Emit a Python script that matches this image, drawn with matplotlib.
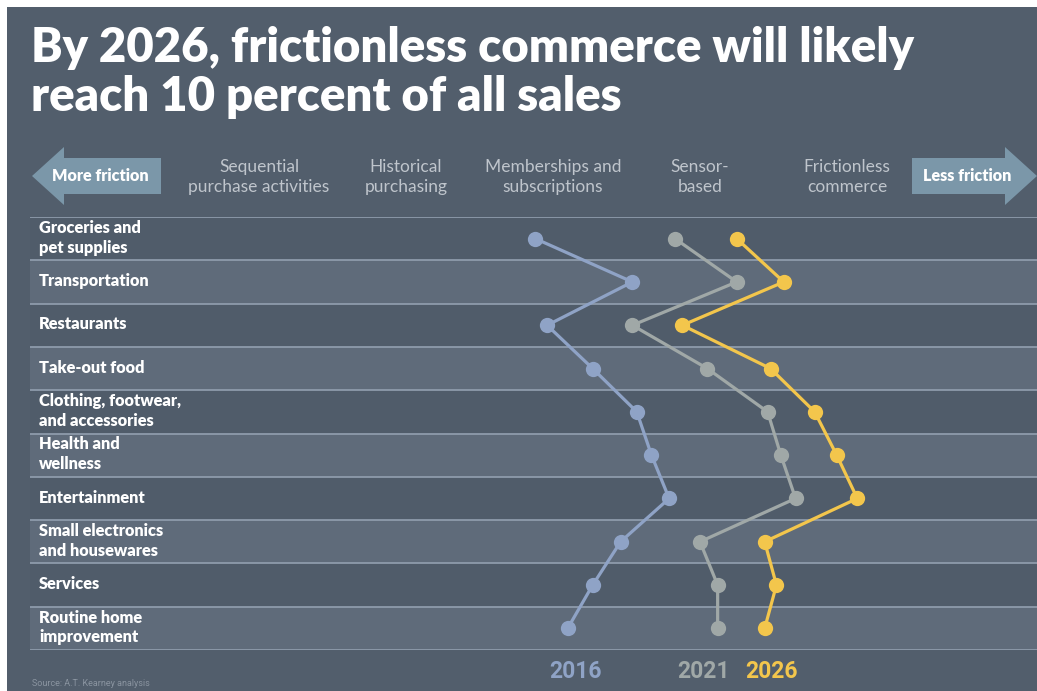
import matplotlib
matplotlib.use("Agg")
import matplotlib.pyplot as plt
from matplotlib.patches import Polygon, Rectangle
from matplotlib.transforms import blended_transform_factory

# ---- data -------------------------------------------------------------
categories = [
    "Groceries and\npet supplies",
    "Transportation",
    "Restaurants",
    "Take-out food",
    "Clothing, footwear,\nand accessories",
    "Health and\nwellness",
    "Entertainment",
    "Small electronics\nand housewares",
    "Services",
    "Routine home\nimprovement",
]
stages = [
    "Sequential\npurchase activities",
    "Historical\npurchasing",
    "Memberships and\nsubscriptions",
    "Sensor-\nbased",
    "Frictionless\ncommerce",
]
years = ["2016", "2021", "2026"]
# friction position on a 1 (sequential) .. 5 (frictionless) scale
values_2016 = [2.88, 3.54, 2.96, 3.27, 3.57, 3.67, 3.79, 3.46, 3.27, 3.10]
values_2021 = [3.83, 4.25, 3.54, 4.05, 4.46, 4.55, 4.65, 4.00, 4.12, 4.12]
values_2026 = [4.25, 4.57, 3.88, 4.48, 4.78, 4.93, 5.07, 4.44, 4.52, 4.44]

series_colors = ["#8fa3c6", "#a0a8a7", "#f3c64c"]

# ---- figure ----------------------------------------------------------
W, H = 1037, 691
fig = plt.figure(figsize=(W / 100, H / 100), dpi=100, facecolor="white")

def fx(px):
    return px / W

def fy(py):
    return 1 - py / H

BG = "#525e6c"
DARK_ROW = "#505c6a"
LIGHT_ROW = "#5f6b7a"
RULE = "#8e9bab"

fig.patches.append(Rectangle((fx(7), 0), 1 - fx(7), fy(7), transform=fig.transFigure,
                             facecolor=BG, edgecolor="none", zorder=-5))

# title
fig.text(fx(31), fy(48), "By 2026, frictionless commerce will likely",
         color="white", fontsize=34, fontweight="heavy", family="Lato",
         ha="left", va="center")
fig.text(fx(31), fy(97), "reach 10 percent of all sales",
         color="white", fontsize=34, fontweight="heavy", family="Lato",
         ha="left", va="center")

# plot area
ax_left, ax_right, ax_top, ax_bot = 30, 1037, 217, 650
ax = fig.add_axes([fx(ax_left), fy(ax_bot), fx(ax_right) - fx(ax_left), fy(ax_top) - fy(ax_bot)])
ax.set_zorder(2)
ax.set_facecolor(BG)
for s in ax.spines.values():
    s.set_visible(False)
ax.set_xticks([])
ax.set_yticks([])

# stage 1 sits at pixel 259, each stage 147 px apart
x0_px, step_px = 259, 147
ax.set_xlim(1 + (ax_left - x0_px) / step_px, 1 + (ax_right - x0_px) / step_px)
n = len(categories)
ax.set_ylim(n - 0.5, -0.5)

for i in range(n):
    ax.axhspan(i - 0.5, i + 0.5, color=DARK_ROW if i % 2 == 0 else LIGHT_ROW, lw=0, zorder=0)
for i in range(n + 1):
    ax.axhline(i - 0.5, color=RULE, lw=1.3, zorder=1)

rows = list(range(n))
for vals, col in zip([values_2016, values_2021, values_2026], series_colors):
    ax.plot(vals, rows, color=col, lw=2.3, marker="o", markersize=11,
            markeredgewidth=0, zorder=3, solid_capstyle="round")

# row labels
tr = blended_transform_factory(ax.transAxes, ax.transData)
for i, lab in enumerate(categories):
    ax.text((39 - ax_left) / (ax_right - ax_left), i - 0.02, lab, transform=tr,
            color="white", fontsize=11.8, fontweight="heavy", family="Lato",
            ha="left", va="center", linespacing=1.3)

# stage headers
trh = blended_transform_factory(ax.transData, fig.transFigure)
for k, st in enumerate(stages):
    ax.text(k + 1, fy(177), st, transform=trh, color="#bfc5cc", fontsize=12.5,
            fontweight="normal", family="Lato", ha="center", va="center",
            linespacing=1.3, clip_on=False)

# direction arrows
ARROW = "#7b97a9"
left_arrow = [(32, 176), (64, 147), (64, 158), (161, 158), (161, 194),
              (64, 194), (64, 205)]
right_arrow = [(1037, 176), (1005, 147), (1005, 158), (912, 158), (912, 194),
               (1005, 194), (1005, 205)]
for pts in (left_arrow, right_arrow):
    fig.patches.append(Polygon([(fx(x), fy(y)) for x, y in pts], closed=True,
                               transform=fig.transFigure, facecolor=ARROW,
                               edgecolor="none", zorder=1))
fig.text(fx(100), fy(176), "More friction", color="white", fontsize=11.6,
         fontweight="heavy", family="Lato", ha="center", va="center")
fig.text(fx(967), fy(176), "Less friction", color="white", fontsize=11.6,
         fontweight="heavy", family="Lato", ha="center", va="center")

# year legend
for yr, col, px in zip(years, series_colors, [576, 703, 771]):
    fig.text(fx(px), fy(672), yr, color=col, fontsize=16.5, fontweight="bold",
             family="Roboto", ha="center", va="center")

fig.text(fx(32), fy(683), "Source: A.T. Kearney analysis", color="#8a94a0",
         fontsize=6.5, family="Roboto", ha="left", va="center")

fig.savefig("out.png", dpi=100, facecolor="white")
